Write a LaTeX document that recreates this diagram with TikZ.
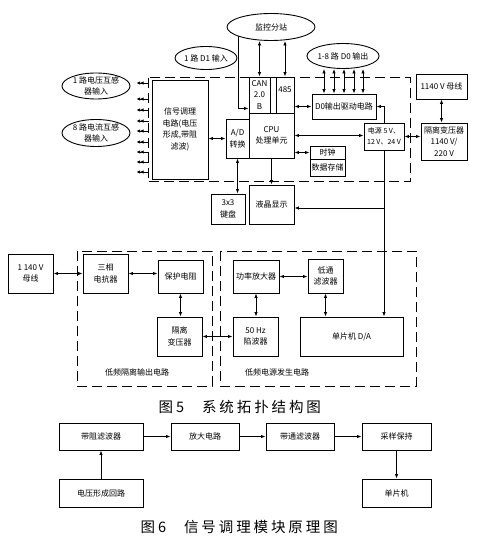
\documentclass[tikz,border=0pt]{standalone}
\usepackage{fontspec}
\newfontfamily\cjk{Noto Sans CJK SC}
\newfontfamily\capfont[LetterSpace=20]{Noto Sans CJK SC}
\usetikzlibrary{arrows.meta,shapes.geometric}

\begin{document}
\begin{tikzpicture}[x=1pt, y=-1pt,
    >={Latex[length=4.5pt,width=3.5pt]},
    box/.style={draw, line width=0.9pt, align=center, inner sep=1pt,
        font=\cjk\fontsize{8}{11.5}\selectfont},
    oval/.style={draw, ellipse, line width=0.9pt, align=center, inner sep=0pt,
        font=\cjk\fontsize{8}{11}\selectfont},
    zone/.style={dash pattern=on 10pt off 5pt, line width=1pt},
    link/.style={line width=0.8pt},
    note/.style={font=\cjk\fontsize{8}{10}\selectfont},
    caption/.style={font=\capfont\fontsize{14.5}{16}\selectfont}]
    \useasboundingbox (0,0) rectangle (498,545);

    % 上部虚线框
    \draw[zone] (148,78) rectangle (410,182);

    % 椭圆：外部信号
    \node[oval, minimum width=88pt, minimum height=27pt] (monitor) at (271,27) {监控分站};
    \node[oval, minimum width=61pt, minimum height=23pt] (dIn) at (206,58) {1 路 D1 输入};
    \node[oval, minimum width=68pt, minimum height=26pt] (vIn) at (96,86) {1 路电压互感\\器输入};
    \node[oval, minimum width=68pt, minimum height=27pt] (iIn) at (96,133) {8 路电流互感\\器输入};
    \node[oval, minimum width=68pt, minimum height=25pt] (dOut) at (343,56) {1-8 路 D0 输出};

    % 主控部分
    \node[box, minimum width=56pt, minimum height=99pt] (sig) at (180,129.5) {信号调理\\电路(电压\\形成,带阻\\滤波)};
    \node[box, minimum width=23pt, minimum height=39pt] (ad) at (237.5,138.5) {A/D\\转换};
    \node[box, minimum width=45pt, minimum height=45pt] (cpu) at (271.5,135.5) {CPU\\处理单元};
    \node[box, minimum width=21pt, minimum height=36pt] (can) at (259.5,95) {CAN\\2.0\\B};
    \node[box, minimum width=18pt, minimum height=36pt] (rs485) at (285,95) {485\\~};
    \node[box, minimum width=64pt, minimum height=25pt] (d0drv) at (344,106.5) {D0输出驱动电路};
    \node[box, minimum width=40pt, minimum height=27pt, inner sep=0pt,
        font=\cjk\fontsize{7}{10.5}\selectfont] (power) at (384,136.5) {电源 5 V、\\12 V、24 V};
    \node[box, minimum width=35pt, minimum height=13pt] (clock) at (327.5,152.5) {时钟};
    \node[box, minimum width=35pt, minimum height=17pt] (store) at (327.5,167.5) {数据存储};
    \node[box, minimum width=45pt, minimum height=39pt] (lcd) at (271.5,204.5) {液晶显示};
    \node[box, minimum width=34pt, minimum height=30pt] (kbd) at (228,209) {3x3\\键盘};

    % 右侧电源
    \node[box, minimum width=51pt, minimum height=25pt] (bus) at (441.5,86.5) {1140 V 母线};
    \node[box, minimum width=46pt, minimum height=37pt] (xfmr) at (444,141.5) {隔离变压器\\1140 V/\\220 V};

    % 上部连线
    \draw[link,<->] (can.north) -- (can.north |- monitor.south);
    \draw[link,<->] (rs485.north) -- (rs485.north |- monitor.south);
    \coordinate (mDrop) at ([xshift=1.5pt]dIn.east);
    \draw[link,->] (mDrop |- monitor.195) |- ([yshift=5pt]can.south west);
    \coordinate (inR) at ([xshift=-3pt]sig.west);
    \foreach \y in {83,99,110,121,131,142,152,162,172}
        \draw[link,-{Latex[length=3.5pt,width=3.5pt] Latex[length=3.5pt,width=3.5pt]}] (inR |- 0,\y) -- ++(-12,0);
    \draw[link,<->] (ad.west) -- (ad.west -| sig.east);
    \draw[link,<->] (ad.south) -- (ad.south |- kbd.north);
    \draw[link,->] (cpu.south) -- (lcd.north);
    \draw[link,<->] (cpu.east) -- (cpu.east -| power.west);
    \draw[link,<->] (d0drv.west -| rs485.east) -- (d0drv.west);
    \foreach \dx in {-20,-10,0,10,19} {
        \coordinate (t) at ([xshift=\dx pt]d0drv.north);
        \draw[link,<->] (t) -- (t |- dOut.south);
    }
    \draw[link,->] (power.north) |- (d0drv.east);
    \draw[link,<->] (power.east) -- (power.east -| xfmr.west);
    \draw[link,<->] (bus.south) -- (bus.south |- xfmr.north);
    \draw[link,<->] (clock.west) -- (clock.west -| cpu.east);
    \coordinate (tap) at (power.south |- 0,208);
    \draw[link,->] (tap) -- (tap -| lcd.east);

    % 下部：低频隔离输出电路
    \draw[zone] (77,251) rectangle (212,386);
    \node[box, minimum width=45pt, minimum height=39pt] (bus2) at (30.5,273.5) {1 140 V\\母线};
    \node[box, minimum width=45pt, minimum height=39pt] (reactor) at (105.5,273.5) {三相\\电抗器};
    \node[box, minimum width=45pt, minimum height=33pt] (resist) at (180.5,276.5) {保护电阻};
    \node[box, minimum width=45pt, minimum height=39pt] (iso) at (179.5,336.5) {隔离\\变压器};
    \node[note] (lbl1) at (137,372) {低频隔离输出电路};

    % 下部：低频电源发生电路
    \draw[zone] (220,251) rectangle (416,386);
    \node[box, minimum width=46pt, minimum height=33pt] (amp) at (256,276.5) {功率放大器};
    \node[box, minimum width=35pt, minimum height=34pt] (lpf) at (325.5,276) {低通\\滤波器};
    \node[box, minimum width=45pt, minimum height=39pt] (notch) at (255.5,336.5) {50 Hz\\陷波器};
    \node[box, minimum width=103pt, minimum height=39pt] (mcu) at (351.5,336.5) {单片机 D/A};
    \node[note] (lbl2) at (277,372) {低频电源发生电路};

    % 电源到单片机 D/A
    \draw[link,->] (power.south) -- (power.south |- mcu.north);

    % 下部连线
    \draw[link,<->] (bus2.east) -- (reactor.west);
    \draw[link,<->] (reactor.east) -- (reactor.east -| resist.west);
    \draw[link,<->] (resist.south) -- (resist.south |- iso.north);
    \draw[link,<->] (iso.east) -- (notch.west);
    \draw[link,<->] (amp.east) -- (amp.east -| lpf.west);
    \draw[link,<->] (amp.south) -- (amp.south |- notch.north);
    \draw[link,<->] (lpf.south) -- (lpf.south |- mcu.north);

    % 图5 标题
    \node[caption, anchor=west] (cap5) at (155,407) {图\hspace{3pt}5\hspace{18pt}系统拓扑结构图};

    % 图6 信号调理模块
    \node[box, minimum width=84pt, minimum height=27pt] (bsf) at (101,436.5) {带阻滤波器};
    \node[box, minimum width=68pt, minimum height=27pt] (amp6) at (205,436.5) {放大电路};
    \node[box, minimum width=68pt, minimum height=27pt] (bpf) at (300,436.5) {带通滤波器};
    \node[box, minimum width=69pt, minimum height=27pt] (sh) at (396.5,436.5) {采样保持};
    \node[box, minimum width=84pt, minimum height=28pt] (vform) at (101,493) {电压形成回路};
    \node[box, minimum width=69pt, minimum height=28pt] (mcu6) at (396.5,493) {单片机};
    \draw[link,->] (bsf) -- (amp6);
    \draw[link,->] (amp6) -- (bpf);
    \draw[link,->] (bpf) -- (sh);
    \draw[link,->] (vform) -- (bsf);
    \draw[link,->] (sh) -- (mcu6);

    % 图6 标题
    \node[caption, anchor=west] (cap6) at (137,527) {图\hspace{3pt}6\hspace{18pt}信号调理模块原理图};
\end{tikzpicture}
\end{document}
